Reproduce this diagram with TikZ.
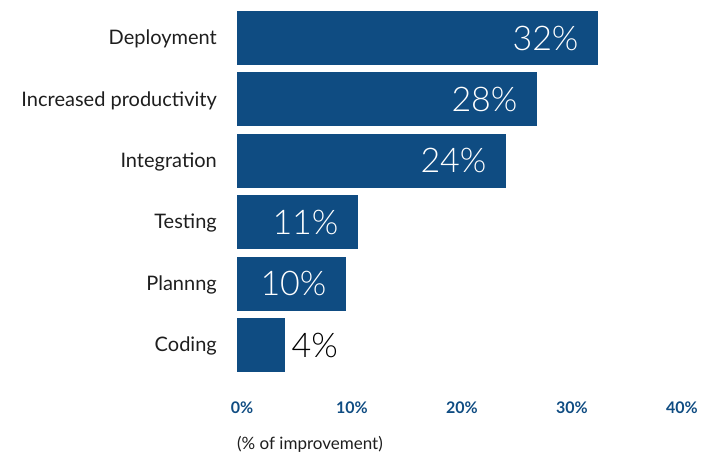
\documentclass[tikz,border=0pt]{standalone}
\usepackage{fontspec}
\setmainfont{Lato}
\newfontfamily\lightfont{Lato Light}
\definecolor{barblue}{RGB}{15,76,130}
\definecolor{textgrey}{RGB}{30,30,30}
\tikzset{
  catlabel/.style={anchor=east,inner sep=0pt,text=textgrey,font=\fontsize{20}{22}\selectfont},
  pctlabel/.style={anchor=east,text=white,font=\lightfont\fontsize{34}{36}\selectfont},
  ticklabel/.style={text=barblue,font=\bfseries\fontsize{16}{18}\selectfont},
}
\begin{document}
\begin{tikzpicture}[x=1pt,y=-1pt,line join=round]
\useasboundingbox (0,0) rectangle (704,458);
\foreach \i/\lab/\w/\val in {0/Deployment/361/32, 1/Increased productivity/300/28,
    2/Integration/269/24, 3/Testing/121/11, 4/Plannng/109/10, 5/Coding/48/4}{
  \fill[barblue] (237,{11+61.4*\i}) rectangle ++(\w,54);
  \node[catlabel] (cat\i) at (217,{39+61.4*\i}) {\lab};
}
\foreach \i/\w/\val in {0/361/32, 1/300/28, 2/269/24, 3/121/11, 4/109/10}
  \node[pctlabel] (pct\i) at ({237+\w-16},{38+61.4*\i}) {\val\%};
\node[pctlabel,anchor=west,text=black] (pct5) at (288,345) {4\%};
\foreach \k in {0,...,4}
  \node[ticklabel] (tick\k) at ({242+110*\k},408) {\the\numexpr10*\k\relax\%};
\node[anchor=west,inner sep=0pt,text=textgrey,font=\fontsize{17}{19}\selectfont] (axistitle) at (237,444) {(\% of improvement)};
\end{tikzpicture}
\end{document}
